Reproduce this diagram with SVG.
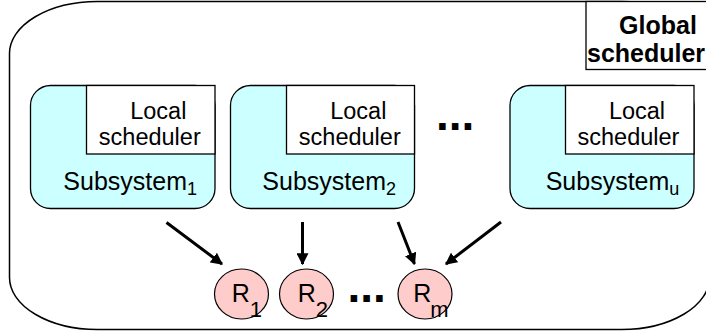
<svg xmlns="http://www.w3.org/2000/svg" width="706" height="334" viewBox="0 0 706 334">
<defs>
<style>
.t{font-family:"Liberation Sans",Arial,sans-serif;font-size:25px;fill:#000}
.l{font-size:23.5px}
.b{font-weight:bold}
.sub{font-size:18px}
.rsub{font-size:22px}
.sys{fill:#CCFFFF;stroke:#000;stroke-width:1.3}
.loc{fill:#fff;stroke:#000;stroke-width:1.3}
.res{fill:#FFCCCC;stroke:#000;stroke-width:1.2}
.arr{stroke:#000;stroke-width:3;fill:none;marker-end:url(#ah)}
.dots{font-family:"Liberation Sans",Arial,sans-serif;font-size:46px;font-weight:bold;fill:#000}
</style>
<marker id="ah" viewBox="0 0 10 10" refX="9" refY="5" markerWidth="4" markerHeight="4" orient="auto" markerUnits="strokeWidth">
<path d="M0,0 L10,5 L0,10 z" fill="#000"/>
</marker>
</defs>
<g id="outer">
<rect x="9.5" y="1.5" width="700" height="328" rx="88" ry="52" fill="#fff" stroke="#000" stroke-width="1.5"/>
</g>
<g id="global">
<rect x="586" y="1.5" width="130" height="68" fill="#fff" stroke="#000" stroke-width="1.3"/>
<text class="t b" x="658" y="34" text-anchor="middle">Global</text>
<text class="t b" x="587" y="61.5">scheduler</text>
</g>
<g id="subsystem1">
<rect class="sys" x="30.5" y="85.5" width="184.5" height="123" rx="20" ry="20"/>
<rect class="loc" x="86.5" y="85.5" width="128.5" height="68.5"/>
<text class="t l" x="158.3" y="118.5" text-anchor="middle">Local</text>
<text class="t l" x="149.8" y="145" text-anchor="middle">scheduler</text>
<text class="t" x="63.3" y="190">Subsystem<tspan class="sub" dy="5">1</tspan></text>
</g>
<g id="subsystem2">
<rect class="sys" x="230.5" y="85.5" width="184" height="123" rx="20" ry="20"/>
<rect class="loc" x="286.5" y="85.5" width="128" height="68.5"/>
<text class="t l" x="358.3" y="118.5" text-anchor="middle">Local</text>
<text class="t l" x="349.8" y="145" text-anchor="middle">scheduler</text>
<text class="t" x="262.3" y="190">Subsystem<tspan class="sub" dy="5">2</tspan></text>
</g>
<g id="subsystemu">
<rect class="sys" x="510" y="85.5" width="184" height="123" rx="20" ry="20"/>
<rect class="loc" x="565.5" y="85.5" width="128.5" height="68.5"/>
<text class="t l" x="637" y="118.5" text-anchor="middle">Local</text>
<text class="t l" x="628.5" y="145" text-anchor="middle">scheduler</text>
<text class="t" x="545.7" y="190">Subsystem<tspan class="sub" dy="5">u</tspan></text>
</g>
<g id="dots-top"><text class="dots" x="436" y="130">...</text></g>
<g id="r1">
<ellipse class="res" cx="241.5" cy="294" rx="27" ry="25"/>
<text class="t" x="231.7" y="302">R<tspan class="rsub" dy="14.5">1</tspan></text>
</g>
<g id="r2">
<ellipse class="res" cx="306.5" cy="294" rx="27" ry="25"/>
<text class="t" x="297.7" y="302">R<tspan class="rsub" dy="14.5">2</tspan></text>
</g>
<g id="dots-bottom"><text class="dots" x="347.5" y="301.5">...</text></g>
<g id="rm">
<ellipse class="res" cx="425" cy="294" rx="27" ry="25"/>
<text class="t" x="413.3" y="302">R<tspan class="rsub" dy="14.5" dx="-1">m</tspan></text>
</g>
<g id="connectors">
<line class="arr" x1="166.5" y1="222.5" x2="222" y2="264"/>
<line class="arr" x1="302.5" y1="222" x2="302.5" y2="264"/>
<line class="arr" x1="398" y1="222" x2="414.5" y2="264"/>
<line class="arr" x1="501" y1="222" x2="446" y2="264"/>
</g>
</svg>
